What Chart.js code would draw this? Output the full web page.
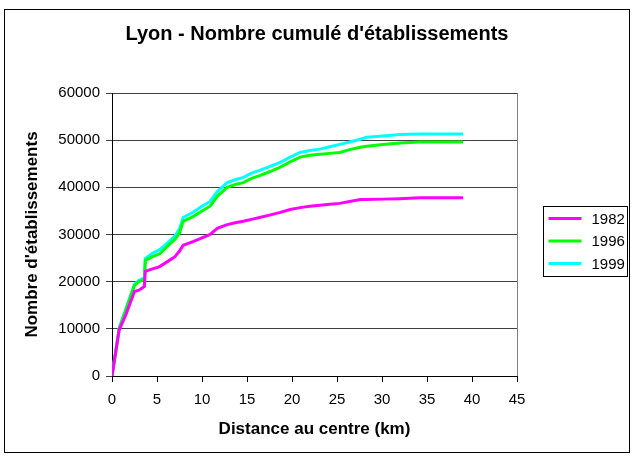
<!DOCTYPE html>
<html>
<head>
<meta charset="utf-8">
<script src="https://cdn.jsdelivr.net/npm/chart.js@4"></script>
<style>
  html, body { margin: 0; padding: 0; background: #fff; }
  #wrap { width: 634px; height: 457px; }
</style>
</head>
<body>
<div id="wrap"><canvas id="chart" width="634" height="457"></canvas></div>
<script>
const distances = [0, 0.8, 1.5, 2.5, 3.0, 3.6, 3.7, 4.5, 5.3, 6.2, 7.0, 7.5, 7.9, 9.0, 10.0, 10.9, 11.7, 12.8, 13.7, 14.6, 15.5, 16.4, 17.5, 18.7, 19.8, 20.9, 22.0, 23.1, 24.2, 25.3, 26.4, 27.6, 28.3, 30.1, 32.0, 34.2, 36.0, 39.0];
const years = ['1982', '1996', '1999'];
const values1982 = [0, 9800, 12800, 17900, 18200, 19000, 22200, 22700, 23200, 24300, 25300, 26500, 27700, 28500, 29300, 30000, 31300, 32100, 32500, 32800, 33200, 33600, 34100, 34700, 35300, 35700, 36000, 36200, 36400, 36600, 37000, 37400, 37400, 37500, 37600, 37800, 37800, 37800];
const values1996 = [0, 10000, 13700, 19200, 20000, 20500, 24500, 25300, 25900, 27600, 29000, 30300, 32800, 33800, 35000, 36000, 38100, 40000, 40600, 41000, 41900, 42500, 43300, 44300, 45400, 46400, 46800, 47000, 47200, 47400, 48000, 48500, 48700, 49100, 49400, 49600, 49600, 49600];
const values1999 = [0, 10200, 14000, 19500, 20300, 20800, 24900, 26000, 26800, 28300, 29700, 31200, 33600, 34700, 36000, 37000, 39100, 41000, 41600, 42100, 43000, 43600, 44400, 45300, 46400, 47400, 47800, 48100, 48600, 49100, 49600, 50200, 50600, 50900, 51200, 51300, 51300, 51300];
const colors = ['#ff00ff', '#00ff00', '#00ffff'];

const series = [values1982, values1996, values1999];
const FONT = '"Liberation Sans", Arial, sans-serif';

function toPoints(vals) {
    return vals.map((v, i) => ({ x: distances[i], y: v }));
}

// outer frame, right edge of the plot and the boxed legend
const decor = {
    id: 'decor',
    beforeDraw(chart) {
        const ctx = chart.ctx;
        ctx.save();
        ctx.fillStyle = '#fff';
        ctx.fillRect(0, 0, chart.width, chart.height);
        ctx.restore();
    },
    afterDraw(chart) {
        const ctx = chart.ctx;
        const a = chart.chartArea;
        ctx.save();
        ctx.strokeStyle = '#000';
        ctx.lineWidth = 1;
        ctx.strokeRect(4.5, 9.5, 625, 443);

        ctx.strokeStyle = '#808080';
        ctx.beginPath();
        ctx.moveTo(Math.round(a.right) + 0.5, a.top);
        ctx.lineTo(Math.round(a.right) + 0.5, a.bottom);
        ctx.stroke();

        // legend
        const bx = 543.5, by = 206.5, bw = 84, bh = 70;
        ctx.strokeStyle = '#000';
        ctx.strokeRect(bx, by, bw, bh);
        ctx.font = '15px ' + FONT;
        ctx.textBaseline = 'middle';
        ctx.fillStyle = '#000';
        chart.data.datasets.forEach((ds, i) => {
            if (!ds.label) return;
            const y = by + 12 + i * 22.5;
            ctx.strokeStyle = ds.borderColor;
            ctx.lineWidth = 3;
            ctx.beginPath();
            ctx.moveTo(bx + 5, y);
            ctx.lineTo(bx + 38, y);
            ctx.stroke();
            ctx.fillText(ds.label, bx + 48, y + 1);
        });
        ctx.restore();
    }
};

new Chart(document.getElementById('chart'), {
    type: 'line',
    data: {
        datasets: years.map((yr, i) => ({
            label: yr,
            data: toPoints(series[i]),
            borderColor: colors[i],
            backgroundColor: colors[i],
            borderWidth: 3,
            pointRadius: 0,
            tension: 0,
            fill: false
        }))
    },
    options: {
        responsive: false,
        animation: false,
        layout: { padding: { top: 12, right: 0, bottom: 0, left: 0 } },
        plugins: {
            legend: { display: false },
            tooltip: { enabled: false },
            title: {
                display: true,
                text: 'Lyon - Nombre cumulé d\'établissements',
                color: '#000',
                font: { family: FONT, size: 20, weight: 'bold' },
                padding: { top: 10, bottom: 47 }
            }
        },
        scales: {
            x: {
                type: 'linear',
                min: 0,
                max: 45,
                afterFit: s => { s.height = 81; },
                ticks: {
                    stepSize: 5,
                    color: '#000',
                    padding: 9,
                    maxRotation: 0,
                    font: { family: FONT, size: 15 }
                },
                grid: { drawOnChartArea: false, color: '#000', tickLength: 6 },
                border: { color: '#000', width: 1 },
                title: {
                    display: true,
                    text: 'Distance au centre (km)',
                    color: '#000',
                    font: { family: FONT, size: 17, weight: 'bold' },
                    padding: { top: 0, bottom: 17 }
                }
            },
            y: {
                min: 0,
                max: 60000,
                afterFit: s => { s.width = 112; },
                ticks: {
                    stepSize: 10000,
                    color: '#000',
                    padding: 6,
                    callback: v => String(v),
                    font: { family: FONT, size: 15 }
                },
                grid: { color: '#404040', tickLength: 6 },
                border: { color: '#000', width: 1 },
                title: {
                    display: true,
                    text: 'Nombre d\'établissements',
                    color: '#000',
                    font: { family: FONT, size: 17, weight: 'bold' },
                    padding: { top: 22, bottom: 0 }
                }
            },
            // empty right-hand axis that holds the space used by the legend
            side: {
                position: 'right',
                min: 0,
                max: 60000,
                afterFit: s => { s.width = 117; },
                ticks: { display: false },
                grid: { display: false },
                border: { display: false }
            }
        }
    },
    plugins: [decor]
});
</script>
</body>
</html>
